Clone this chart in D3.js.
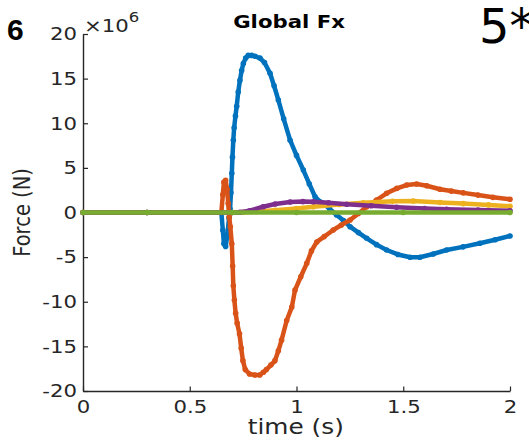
<!DOCTYPE html>
<html>
<head>
<meta charset="utf-8">
<script src="https://cdn.jsdelivr.net/npm/d3@7"></script>
<style>
  html, body { margin: 0; padding: 0; background: #fff; }
  svg { display: block; }
</style>
</head>
<body>
<svg id="chart" width="529" height="441"></svg>
<script>
// ---------------- data (time in s, force in 1e6 N) ----------------
const xTicks = [0, 0.5, 1, 1.5, 2];
const yTicks = [-20, -15, -10, -5, 0, 5, 10, 15, 20];
const seriesNames = ["s1", "s2", "s3", "s4", "s5"];
const seriesColors = ["#0072BD", "#D95319", "#EDB120", "#7E2F8E", "#77AC30"];

const fxBlue = [
  [0,0],[0.30,0],[0.648,0],[0.655,-2.0],[0.660,-3.5],[0.668,-3.8],[0.675,-2.8],[0.684,-0.6],
  [0.689,0.4],[0.693,2.2],[0.697,4.4],[0.700,6.2],[0.704,8.1],[0.708,9.5],[0.714,10.8],
  [0.720,11.9],[0.727,13.5],[0.735,14.8],[0.743,15.9],[0.751,16.7],[0.762,17.3],[0.774,17.6],
  [0.790,17.6],[0.806,17.5],[0.829,17.3],[0.850,16.8],[0.876,15.6],[0.895,14.2],[0.915,12.6],
  [0.940,10.5],[0.970,8.1],[1.000,6.4],[1.032,4.76],[1.060,3.2],[1.087,1.77],[1.110,1.21],
  [1.126,1.03],[1.155,0.4],[1.188,-0.28],[1.220,-0.9],[1.251,-1.59],[1.290,-2.25],[1.329,-2.89],
  [1.375,-3.6],[1.422,-4.2],[1.475,-4.7],[1.532,-5.02],[1.578,-5.02],[1.640,-4.65],[1.703,-4.2],
  [1.780,-3.85],[1.859,-3.45],[1.930,-3.05],[2.000,-2.63]
];
const fxOrange = [
  [0,0],[0.30,0],[0.648,0],[0.655,2.0],[0.660,3.4],[0.668,3.6],[0.675,2.6],[0.680,1.0],
  [0.685,-0.5],[0.690,-1.6],[0.697,-3.5],[0.701,-6.0],[0.704,-8.2],[0.709,-9.8],[0.715,-11.3],
  [0.722,-12.4],[0.733,-13.6],[0.741,-15.2],[0.749,-16.6],[0.760,-17.6],[0.780,-18.1],
  [0.805,-18.2],[0.828,-18.2],[0.845,-17.9],[0.859,-17.6],[0.880,-17.1],[0.899,-16.6],
  [0.915,-15.5],[0.930,-14.3],[0.954,-12.1],[0.978,-10.6],[0.993,-8.7],[1.020,-7.2],
  [1.048,-5.7],[1.070,-4.3],[1.095,-3.3],[1.130,-2.7],[1.172,-1.96],[1.210,-1.4],[1.251,-0.84],
  [1.290,-0.1],[1.329,0.65],[1.375,1.4],[1.422,2.15],[1.470,2.7],[1.516,3.08],[1.563,3.19],
  [1.610,3.0],[1.672,2.6],[1.725,2.4],[1.781,2.2],[1.850,1.95],[1.920,1.7],[2.000,1.48]
];
const fxYellow = [
  [0,0],[0.30,0],[0.700,0],[0.750,0.03],[0.813,0.1],[0.900,0.25],[1.000,0.45],[1.079,0.65],
  [1.200,0.9],[1.313,1.1],[1.450,1.25],[1.547,1.29],[1.672,1.12],[1.781,1.0],[1.900,0.85],[2.000,0.7]
];
const fxPurple = [
  [0,0],[0.30,0],[0.700,0],[0.735,0.02],[0.780,0.2],[0.844,0.65],[0.900,0.95],[0.970,1.18],
  [1.030,1.22],[1.079,1.2],[1.150,1.1],[1.235,0.92],[1.350,0.75],[1.469,0.58],[1.600,0.45],
  [1.703,0.36],[1.850,0.27],[2.000,0.2]
];
const fxGreen = [
  [0,0],[0.30,0],[0.70,0],[1.00,0],[1.50,0],[2.00,0]
];
const allSeries = [fxBlue, fxOrange, fxYellow, fxPurple, fxGreen];

const titleText = "Global Fx";
const xLabel = "time (s)";
const yLabel = "Force (N)";
const panelLabel = "6";
const cornerLabel = "5*";

// ---------------- layout ----------------
const SX = 1.18;   // horizontal text stretch seen in the reference
const ink = "#262626";
const svg = d3.select("#chart");

const x = d3.scaleLinear().domain([0, 2]).range([83, 510]);
const y = d3.scaleLinear().domain([-20, 20]).range([391, 34]);

// axes
const xAxis = d3.axisBottom(x).tickValues(xTicks).tickFormat(d => String(d))
  .tickSizeInner(-4.5).tickSizeOuter(0).tickPadding(9);
const yAxis = d3.axisLeft(y).tickValues(yTicks).tickFormat(d => String(d))
  .tickSizeInner(-5).tickSizeOuter(0).tickPadding(6);

const gx = svg.append("g").attr("transform", `translate(0,${y(-20)})`).call(xAxis);
const gy = svg.append("g").attr("transform", `translate(${x(0)},0)`).call(yAxis);

[gx, gy].forEach(g => {
  g.select(".domain").attr("stroke", ink).attr("stroke-width", 1.4);
  g.selectAll(".tick line").attr("stroke", ink).attr("stroke-width", 1.2);
  g.selectAll(".tick text")
    .attr("fill", ink)
    .style("font-family", "'DejaVu Sans', sans-serif")
    .style("font-size", "18px")
    .each(function () {
      const t = d3.select(this);
      const tx = +t.attr("x") || 0;
      const ty = +t.attr("y") || 0;
      t.attr("x", 0).attr("y", 0)
       .attr("transform", `translate(${tx},${ty}) scale(${SX},1)`);
    });
});

// series
const line = d3.line().x(d => x(d[0])).y(d => y(d[1])).curve(d3.curveLinear);
const plot = svg.append("g");
allSeries.forEach((data, i) => {
  const g = plot.append("g").attr("class", seriesNames[i]);
  g.append("path").datum(data)
    .attr("d", line)
    .attr("fill", "none")
    .attr("stroke", seriesColors[i])
    .attr("stroke-width", 4.5)
    .attr("stroke-linejoin", "round")
    .attr("stroke-linecap", "round");
  g.selectAll("circle").data(data).enter().append("circle")
    .attr("cx", d => x(d[0])).attr("cy", d => y(d[1]))
    .attr("r", 2.8)
    .attr("fill", seriesColors[i]);
});

// texts
function stretchedText(px, py, str, size, opts = {}) {
  const t = svg.append("text")
    .attr("transform", `translate(${px},${py}) scale(${opts.sx ?? SX},1)` + (opts.rotate ? ` rotate(${opts.rotate})` : ""))
    .attr("text-anchor", opts.anchor || "start")
    .attr("fill", opts.fill || ink)
    .style("font-family", opts.family || "'DejaVu Sans', sans-serif")
    .style("font-size", size + "px")
    .style("font-weight", opts.weight || "normal")
    .text(str);
  return t;
}

// title
stretchedText(289, 28.3, titleText, 18, { anchor: "middle", weight: "bold", fill: "#000" });
// axis labels
stretchedText(295.8, 433.5, xLabel, 21, { anchor: "middle" });
stretchedText(30, 212.5, yLabel, 19.5, { anchor: "middle", rotate: -90 });

// exponent ×10^6
const ex = svg.append("text")
  .attr("transform", `translate(84,31.7) scale(${SX},1)`)
  .attr("fill", ink)
  .style("font-family", "'DejaVu Sans', sans-serif")
  .style("font-size", "18px");
ex.append("tspan").text("×10");
ex.append("tspan").attr("dy", -10).style("font-size", "14px").text("6");

// panel labels
stretchedText(7, 40, panelLabel, 30, { sx: 1, weight: "bold", fill: "#000", family: "'Liberation Sans', Arial, sans-serif" });
stretchedText(479, 43.3, cornerLabel, 48, { sx: 1, fill: "#000" });
</script>
</body>
</html>
